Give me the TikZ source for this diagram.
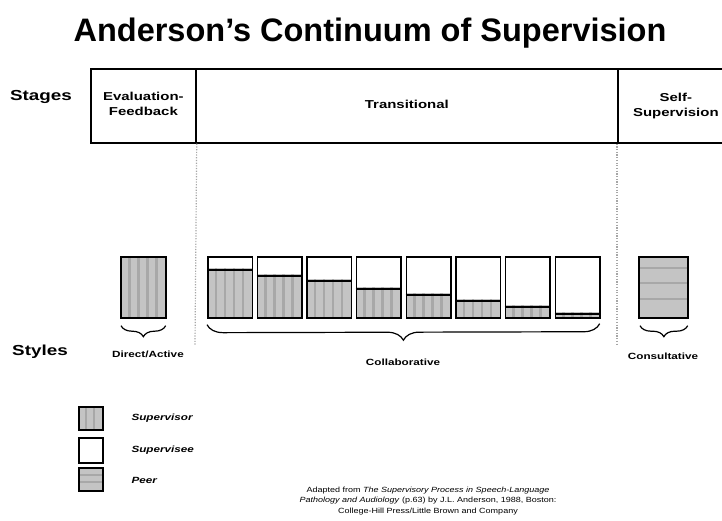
\documentclass[tikz,border=0pt]{standalone}
\usepackage{fontspec}
\setmainfont{Liberation Sans}
\newfontfamily\wf[FakeStretch=1.3]{Liberation Sans}
\newfontfamily\cf[FakeStretch=1.2]{Liberation Sans}
\usetikzlibrary{decorations.pathreplacing}
\tikzset{
  frame/.style={draw=black, line width=1.7pt},
  cell/.style={frame, anchor=north west, inner sep=0pt, minimum height=74pt},
  box/.style={frame, anchor=north west, inner sep=0pt, minimum width=44.5pt, minimum height=61pt},
  lbox/.style={frame, anchor=north west, inner sep=0pt, minimum width=24pt, minimum height=23pt},
  stripe/.style={draw=black!34, line width=2.4pt},
  supfill/.style={fill=black!23},
  brc/.style={decorate, decoration={brace, mirror, amplitude=#1}, line width=1.2pt},
  dots/.style={draw=black!35, line width=1.2pt, dash pattern=on 1.2pt off 1.5pt},
  hdr/.style={align=center, font=\wf\bfseries\fontsize{11.5}{15}\selectfont},
  side/.style={font=\wf\bfseries\fontsize{14.5}{16}\selectfont},
  sty/.style={font=\wf\bfseries\fontsize{9}{11}\selectfont},
  leg/.style={anchor=west, font=\wf\bfseries\itshape\fontsize{9}{11}\selectfont}
}
\begin{document}
\begin{tikzpicture}[x=1pt,y=-1pt]
\useasboundingbox (0,0) rectangle (722,521);
\fill[white] (0,0) rectangle (722,521);

% title
\node (title) at (370,33) {\fontsize{32.5}{38}\selectfont\bfseries Anderson’s Continuum of Supervision};

% side labels
\node[side] (stages) at (41,97) {Stages};
\node[side] (styles) at (40,352) {Styles};

% header cells
\node[cell, minimum width=105pt] (evf) at (90,68) {};
\node[cell, minimum width=422pt] (tra) at (195,68) {};
\node[cell, minimum width=110pt] (ssv) at (617,68) {};
\node[hdr] (evft) at ([yshift=2pt]evf.center) {Evaluation-\\Feedback};
\node[hdr] (trat) at ([yshift=1pt]tra.center) {Transitional};
\node[hdr] (ssvt) at ([xshift=3pt,yshift=0pt]ssv.center) {Self-\\Supervision};

% dotted separators
\coordinate (d1) at (195,345);
\coordinate (d2) at (617,345);
\draw[dots] (evf.south east) -- (d1);
\draw[dots] (ssv.south west) -- (d2);

% Direct/Active box
\fill[supfill] (120,256) rectangle (165,317);
\foreach \s in {9.5,18.5,27.5,36.5} \draw[stripe] (120+\s,256) -- (120+\s,317);
\node[box, minimum width=45pt] (da) at (120,256) {};
\draw[brc=11] ([xshift=1pt,yshift=-7pt]da.south west) -- ([xshift=-1pt,yshift=-7pt]da.south east);
\node[sty] (dal) at (148,354) {Direct/Active};

% transitional boxes
\foreach \i/\x/\h in {1/207/49, 2/256.5/43, 3/306/38, 4/355.5/30, 5/405.5/24, 6/455/18, 7/504.5/12, 8/554.5/5} {
  \fill[supfill] (\x,317) rectangle ++(44.5,-\h);
  \foreach \s in {9,18,27,36} \draw[stripe] (\x+\s,317) -- ++(0,-\h);
  \node[box] (t\i) at (\x,256) {};
  \draw[frame] ([yshift=\h pt]t\i.south west) -- ([yshift=\h pt]t\i.south east);
}
\draw[brc=16] ([xshift=0pt,yshift=-6pt]t1.south west) -- ([xshift=-1pt,yshift=-5pt]t8.south east);
\node[sty] (col) at (403,362) {Collaborative};

% Consultative box
\fill[supfill] (638,256) rectangle (687,317);
\foreach \s in {12,27,43} \draw[stripe] (638,256+\s) -- (687,256+\s);
\node[box, minimum width=49pt] (con) at (638,256) {};
\draw[brc=11] ([xshift=2pt,yshift=-7pt]con.south west) -- ([xshift=-1pt,yshift=-7pt]con.south east);
\node[sty] (conl) at (663,356) {Consultative};

% legend
\fill[supfill] (78,406) rectangle (102,429);
\foreach \s in {8,16} \draw[stripe] (78+\s,406) -- (78+\s,429);
\node[lbox] (l1) at (78,406) {};
\node[lbox, minimum height=25pt] (l2) at (78,437) {};
\fill[supfill] (78,467) rectangle (102,490);
\foreach \s in {8,15} \draw[stripe] (78,467+\s) -- (102,467+\s);
\node[lbox] (l3) at (78,467) {};
\node[leg] (l1t) at (128,418) {Supervisor};
\node[leg] (l2t) at (128,450) {Supervisee};
\node[leg] (l3t) at (128,480) {Peer};

% citation
\node[align=center, font=\cf\fontsize{7.5}{10.5}\selectfont] (cite) at (428,501)
  {Adapted from \textit{The Supervisory Process in Speech-Language}\\
   \textit{Pathology and Audiology} (p.63) by J.L. Anderson, 1988, Boston:\\
   College-Hill Press/Little Brown and Company};
\end{tikzpicture}
\end{document}
